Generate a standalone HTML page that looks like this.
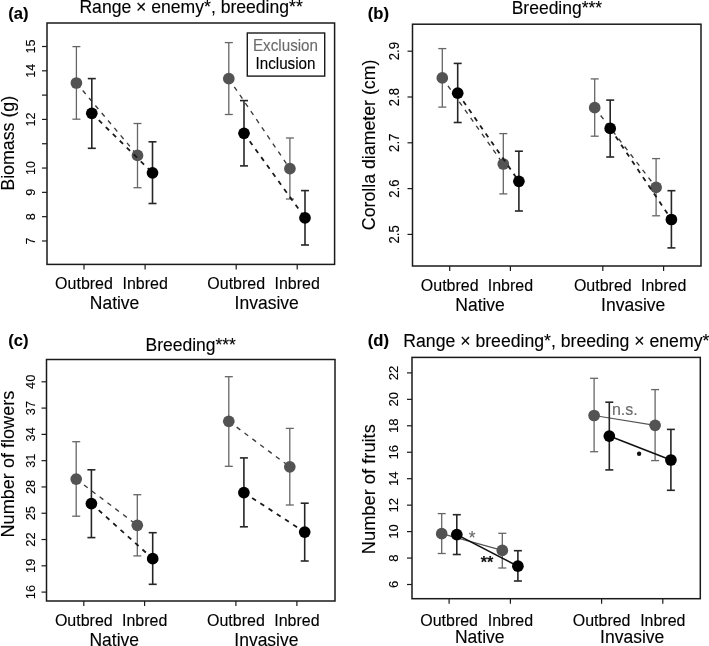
<!DOCTYPE html>
<html><head><meta charset="utf-8"><style>
html,body{margin:0;padding:0;background:#fff;}
svg{display:block;font-family:"Liberation Sans", sans-serif;filter:blur(0.3px);}
</style></head><body>
<svg width="709" height="646" viewBox="0 0 709 646">
<rect width="709" height="646" fill="#fff"/>
<rect x="47" y="23" width="287.6" height="241.4" fill="none" stroke="#1a1a1a" stroke-width="1.5"/>
<line x1="42" y1="240.98" x2="47" y2="240.98" stroke="#1a1a1a" stroke-width="1.2"/>
<text x="0" y="0" transform="translate(35,240.98) rotate(-90) scale(1,1.04)" text-anchor="middle" font-size="12.5" fill="#000" stroke="#000" stroke-width="0.12" font-weight="normal" >7</text>
<line x1="42" y1="216.67" x2="47" y2="216.67" stroke="#1a1a1a" stroke-width="1.2"/>
<text x="0" y="0" transform="translate(35,216.67) rotate(-90) scale(1,1.04)" text-anchor="middle" font-size="12.5" fill="#000" stroke="#000" stroke-width="0.12" font-weight="normal" >8</text>
<line x1="42" y1="192.36" x2="47" y2="192.36" stroke="#1a1a1a" stroke-width="1.2"/>
<text x="0" y="0" transform="translate(35,192.36) rotate(-90) scale(1,1.04)" text-anchor="middle" font-size="12.5" fill="#000" stroke="#000" stroke-width="0.12" font-weight="normal" >9</text>
<line x1="42" y1="168.05" x2="47" y2="168.05" stroke="#1a1a1a" stroke-width="1.2"/>
<text x="0" y="0" transform="translate(35,168.05) rotate(-90) scale(1,1.04)" text-anchor="middle" font-size="12.5" fill="#000" stroke="#000" stroke-width="0.12" font-weight="normal" >10</text>
<line x1="42" y1="143.74" x2="47" y2="143.74" stroke="#1a1a1a" stroke-width="1.2"/>
<line x1="42" y1="119.43" x2="47" y2="119.43" stroke="#1a1a1a" stroke-width="1.2"/>
<text x="0" y="0" transform="translate(35,119.43) rotate(-90) scale(1,1.04)" text-anchor="middle" font-size="12.5" fill="#000" stroke="#000" stroke-width="0.12" font-weight="normal" >12</text>
<line x1="42" y1="95.12" x2="47" y2="95.12" stroke="#1a1a1a" stroke-width="1.2"/>
<line x1="42" y1="70.81" x2="47" y2="70.81" stroke="#1a1a1a" stroke-width="1.2"/>
<text x="0" y="0" transform="translate(35,70.81) rotate(-90) scale(1,1.04)" text-anchor="middle" font-size="12.5" fill="#000" stroke="#000" stroke-width="0.12" font-weight="normal" >14</text>
<line x1="42" y1="46.5" x2="47" y2="46.5" stroke="#1a1a1a" stroke-width="1.2"/>
<text x="0" y="0" transform="translate(35,46.5) rotate(-90) scale(1,1.04)" text-anchor="middle" font-size="12.5" fill="#000" stroke="#000" stroke-width="0.12" font-weight="normal" >15</text>
<line x1="84" y1="264.4" x2="84" y2="269.4" stroke="#1a1a1a" stroke-width="1.2"/>
<line x1="145.1" y1="264.4" x2="145.1" y2="269.4" stroke="#1a1a1a" stroke-width="1.2"/>
<line x1="236.2" y1="264.4" x2="236.2" y2="269.4" stroke="#1a1a1a" stroke-width="1.2"/>
<line x1="297.2" y1="264.4" x2="297.2" y2="269.4" stroke="#1a1a1a" stroke-width="1.2"/>
<text x="0" y="0" transform="translate(84,288.8) scale(1,1.04)" text-anchor="middle" font-size="16" fill="#000" stroke="#000" stroke-width="0.12" font-weight="normal" >Outbred</text>
<text x="0" y="0" transform="translate(145.1,288.8) scale(1,1.04)" text-anchor="middle" font-size="16" fill="#000" stroke="#000" stroke-width="0.12" font-weight="normal" >Inbred</text>
<text x="0" y="0" transform="translate(236.2,288.8) scale(1,1.04)" text-anchor="middle" font-size="16" fill="#000" stroke="#000" stroke-width="0.12" font-weight="normal" >Outbred</text>
<text x="0" y="0" transform="translate(297.2,288.8) scale(1,1.04)" text-anchor="middle" font-size="16" fill="#000" stroke="#000" stroke-width="0.12" font-weight="normal" >Inbred</text>
<text x="0" y="0" transform="translate(114.55,308.5) scale(1,1.04)" text-anchor="middle" font-size="17.5" fill="#000" stroke="#000" stroke-width="0.12" font-weight="normal" >Native</text>
<text x="0" y="0" transform="translate(266.7,308.5) scale(1,1.04)" text-anchor="middle" font-size="17.5" fill="#000" stroke="#000" stroke-width="0.12" font-weight="normal" >Invasive</text>
<text x="0" y="0" transform="translate(13.6,143.3) rotate(-90) scale(1,1.04)" text-anchor="middle" font-size="17.8" fill="#000" stroke="#000" stroke-width="0.12" font-weight="normal" >Biomass (g)</text>
<text x="0" y="0" transform="translate(191.1,12.8) scale(1,1.04)" text-anchor="middle" font-size="17.6" fill="#000" stroke="#000" stroke-width="0.12" font-weight="normal" >Range × enemy*, breeding**</text>
<text x="0" y="0" transform="translate(8.2,18.5) scale(1,1.0)" text-anchor="start" font-size="16.6" fill="#000" stroke="#000" stroke-width="0.12" font-weight="bold" >(a)</text>
<rect x="412.5" y="24.2" width="288.5" height="241.8" fill="none" stroke="#1a1a1a" stroke-width="1.5"/>
<line x1="407.5" y1="234.4" x2="412.5" y2="234.4" stroke="#1a1a1a" stroke-width="1.2"/>
<text x="0" y="0" transform="translate(399.3,234.4) rotate(-90) scale(1,1.04)" text-anchor="middle" font-size="13.2" fill="#000" stroke="#000" stroke-width="0.12" font-weight="normal" >2.5</text>
<line x1="407.5" y1="188.6" x2="412.5" y2="188.6" stroke="#1a1a1a" stroke-width="1.2"/>
<text x="0" y="0" transform="translate(399.3,188.6) rotate(-90) scale(1,1.04)" text-anchor="middle" font-size="13.2" fill="#000" stroke="#000" stroke-width="0.12" font-weight="normal" >2.6</text>
<line x1="407.5" y1="142.8" x2="412.5" y2="142.8" stroke="#1a1a1a" stroke-width="1.2"/>
<text x="0" y="0" transform="translate(399.3,142.8) rotate(-90) scale(1,1.04)" text-anchor="middle" font-size="13.2" fill="#000" stroke="#000" stroke-width="0.12" font-weight="normal" >2.7</text>
<line x1="407.5" y1="97" x2="412.5" y2="97" stroke="#1a1a1a" stroke-width="1.2"/>
<text x="0" y="0" transform="translate(399.3,97) rotate(-90) scale(1,1.04)" text-anchor="middle" font-size="13.2" fill="#000" stroke="#000" stroke-width="0.12" font-weight="normal" >2.8</text>
<line x1="407.5" y1="51.2" x2="412.5" y2="51.2" stroke="#1a1a1a" stroke-width="1.2"/>
<text x="0" y="0" transform="translate(399.3,51.2) rotate(-90) scale(1,1.04)" text-anchor="middle" font-size="13.2" fill="#000" stroke="#000" stroke-width="0.12" font-weight="normal" >2.9</text>
<line x1="449.7" y1="266" x2="449.7" y2="271" stroke="#1a1a1a" stroke-width="1.2"/>
<line x1="510.4" y1="266" x2="510.4" y2="271" stroke="#1a1a1a" stroke-width="1.2"/>
<line x1="602.8" y1="266" x2="602.8" y2="271" stroke="#1a1a1a" stroke-width="1.2"/>
<line x1="663.6" y1="266" x2="663.6" y2="271" stroke="#1a1a1a" stroke-width="1.2"/>
<text x="0" y="0" transform="translate(449.7,290.6) scale(1,1.04)" text-anchor="middle" font-size="16" fill="#000" stroke="#000" stroke-width="0.12" font-weight="normal" >Outbred</text>
<text x="0" y="0" transform="translate(510.4,290.6) scale(1,1.04)" text-anchor="middle" font-size="16" fill="#000" stroke="#000" stroke-width="0.12" font-weight="normal" >Inbred</text>
<text x="0" y="0" transform="translate(602.8,290.6) scale(1,1.04)" text-anchor="middle" font-size="16" fill="#000" stroke="#000" stroke-width="0.12" font-weight="normal" >Outbred</text>
<text x="0" y="0" transform="translate(663.6,290.6) scale(1,1.04)" text-anchor="middle" font-size="16" fill="#000" stroke="#000" stroke-width="0.12" font-weight="normal" >Inbred</text>
<text x="0" y="0" transform="translate(480.05,311.1) scale(1,1.04)" text-anchor="middle" font-size="17.5" fill="#000" stroke="#000" stroke-width="0.12" font-weight="normal" >Native</text>
<text x="0" y="0" transform="translate(633.2,311.1) scale(1,1.04)" text-anchor="middle" font-size="17.5" fill="#000" stroke="#000" stroke-width="0.12" font-weight="normal" >Invasive</text>
<text x="0" y="0" transform="translate(375.3,144.9) rotate(-90) scale(1,1.04)" text-anchor="middle" font-size="17.75" fill="#000" stroke="#000" stroke-width="0.12" font-weight="normal" >Corolla diameter (cm)</text>
<text x="0" y="0" transform="translate(556.9,13.5) scale(1,1.04)" text-anchor="middle" font-size="17.5" fill="#000" stroke="#000" stroke-width="0.12" font-weight="normal" >Breeding***</text>
<text x="0" y="0" transform="translate(367.8,18.5) scale(1,1.0)" text-anchor="start" font-size="16.6" fill="#000" stroke="#000" stroke-width="0.12" font-weight="bold" >(b)</text>
<rect x="46.5" y="359.5" width="288.5" height="241.5" fill="none" stroke="#1a1a1a" stroke-width="1.5"/>
<line x1="41.5" y1="592.1" x2="46.5" y2="592.1" stroke="#1a1a1a" stroke-width="1.2"/>
<text x="0" y="0" transform="translate(35,592.1) rotate(-90) scale(1,1.04)" text-anchor="middle" font-size="12.8" fill="#000" stroke="#000" stroke-width="0.12" font-weight="normal" >16</text>
<line x1="41.5" y1="565.81" x2="46.5" y2="565.81" stroke="#1a1a1a" stroke-width="1.2"/>
<text x="0" y="0" transform="translate(35,565.81) rotate(-90) scale(1,1.04)" text-anchor="middle" font-size="12.8" fill="#000" stroke="#000" stroke-width="0.12" font-weight="normal" >19</text>
<line x1="41.5" y1="539.52" x2="46.5" y2="539.52" stroke="#1a1a1a" stroke-width="1.2"/>
<text x="0" y="0" transform="translate(35,539.52) rotate(-90) scale(1,1.04)" text-anchor="middle" font-size="12.8" fill="#000" stroke="#000" stroke-width="0.12" font-weight="normal" >22</text>
<line x1="41.5" y1="513.24" x2="46.5" y2="513.24" stroke="#1a1a1a" stroke-width="1.2"/>
<text x="0" y="0" transform="translate(35,513.24) rotate(-90) scale(1,1.04)" text-anchor="middle" font-size="12.8" fill="#000" stroke="#000" stroke-width="0.12" font-weight="normal" >25</text>
<line x1="41.5" y1="486.95" x2="46.5" y2="486.95" stroke="#1a1a1a" stroke-width="1.2"/>
<text x="0" y="0" transform="translate(35,486.95) rotate(-90) scale(1,1.04)" text-anchor="middle" font-size="12.8" fill="#000" stroke="#000" stroke-width="0.12" font-weight="normal" >28</text>
<line x1="41.5" y1="460.66" x2="46.5" y2="460.66" stroke="#1a1a1a" stroke-width="1.2"/>
<text x="0" y="0" transform="translate(35,460.66) rotate(-90) scale(1,1.04)" text-anchor="middle" font-size="12.8" fill="#000" stroke="#000" stroke-width="0.12" font-weight="normal" >31</text>
<line x1="41.5" y1="434.38" x2="46.5" y2="434.38" stroke="#1a1a1a" stroke-width="1.2"/>
<text x="0" y="0" transform="translate(35,434.38) rotate(-90) scale(1,1.04)" text-anchor="middle" font-size="12.8" fill="#000" stroke="#000" stroke-width="0.12" font-weight="normal" >34</text>
<line x1="41.5" y1="408.09" x2="46.5" y2="408.09" stroke="#1a1a1a" stroke-width="1.2"/>
<text x="0" y="0" transform="translate(35,408.09) rotate(-90) scale(1,1.04)" text-anchor="middle" font-size="12.8" fill="#000" stroke="#000" stroke-width="0.12" font-weight="normal" >37</text>
<line x1="41.5" y1="381.8" x2="46.5" y2="381.8" stroke="#1a1a1a" stroke-width="1.2"/>
<text x="0" y="0" transform="translate(35,381.8) rotate(-90) scale(1,1.04)" text-anchor="middle" font-size="12.8" fill="#000" stroke="#000" stroke-width="0.12" font-weight="normal" >40</text>
<line x1="83.8" y1="601" x2="83.8" y2="606" stroke="#1a1a1a" stroke-width="1.2"/>
<line x1="144.6" y1="601" x2="144.6" y2="606" stroke="#1a1a1a" stroke-width="1.2"/>
<line x1="235.9" y1="601" x2="235.9" y2="606" stroke="#1a1a1a" stroke-width="1.2"/>
<line x1="296.9" y1="601" x2="296.9" y2="606" stroke="#1a1a1a" stroke-width="1.2"/>
<text x="0" y="0" transform="translate(83.8,625.5) scale(1,1.04)" text-anchor="middle" font-size="16" fill="#000" stroke="#000" stroke-width="0.12" font-weight="normal" >Outbred</text>
<text x="0" y="0" transform="translate(144.6,625.5) scale(1,1.04)" text-anchor="middle" font-size="16" fill="#000" stroke="#000" stroke-width="0.12" font-weight="normal" >Inbred</text>
<text x="0" y="0" transform="translate(235.9,625.5) scale(1,1.04)" text-anchor="middle" font-size="16" fill="#000" stroke="#000" stroke-width="0.12" font-weight="normal" >Outbred</text>
<text x="0" y="0" transform="translate(296.9,625.5) scale(1,1.04)" text-anchor="middle" font-size="16" fill="#000" stroke="#000" stroke-width="0.12" font-weight="normal" >Inbred</text>
<text x="0" y="0" transform="translate(114.2,645.9) scale(1,1.04)" text-anchor="middle" font-size="17.5" fill="#000" stroke="#000" stroke-width="0.12" font-weight="normal" >Native</text>
<text x="0" y="0" transform="translate(266.4,645.9) scale(1,1.04)" text-anchor="middle" font-size="17.5" fill="#000" stroke="#000" stroke-width="0.12" font-weight="normal" >Invasive</text>
<text x="0" y="0" transform="translate(13.7,464.1) rotate(-90) scale(1,1.04)" text-anchor="middle" font-size="18.1" fill="#000" stroke="#000" stroke-width="0.12" font-weight="normal" >Number of flowers</text>
<text x="0" y="0" transform="translate(190.7,350.6) scale(1,1.04)" text-anchor="middle" font-size="17.5" fill="#000" stroke="#000" stroke-width="0.12" font-weight="normal" >Breeding***</text>
<text x="0" y="0" transform="translate(8.2,345.6) scale(1,1.0)" text-anchor="start" font-size="16.6" fill="#000" stroke="#000" stroke-width="0.12" font-weight="bold" >(c)</text>
<rect x="412.0" y="357.4" width="288.3" height="241.3" fill="none" stroke="#1a1a1a" stroke-width="1.5"/>
<line x1="407.0" y1="584.5" x2="412.0" y2="584.5" stroke="#1a1a1a" stroke-width="1.2"/>
<text x="0" y="0" transform="translate(398.2,584.5) rotate(-90) scale(1,1.04)" text-anchor="middle" font-size="13" fill="#000" stroke="#000" stroke-width="0.12" font-weight="normal" >6</text>
<line x1="407.0" y1="558.05" x2="412.0" y2="558.05" stroke="#1a1a1a" stroke-width="1.2"/>
<text x="0" y="0" transform="translate(398.2,558.05) rotate(-90) scale(1,1.04)" text-anchor="middle" font-size="13" fill="#000" stroke="#000" stroke-width="0.12" font-weight="normal" >8</text>
<line x1="407.0" y1="531.6" x2="412.0" y2="531.6" stroke="#1a1a1a" stroke-width="1.2"/>
<text x="0" y="0" transform="translate(398.2,531.6) rotate(-90) scale(1,1.04)" text-anchor="middle" font-size="13" fill="#000" stroke="#000" stroke-width="0.12" font-weight="normal" >10</text>
<line x1="407.0" y1="505.15" x2="412.0" y2="505.15" stroke="#1a1a1a" stroke-width="1.2"/>
<text x="0" y="0" transform="translate(398.2,505.15) rotate(-90) scale(1,1.04)" text-anchor="middle" font-size="13" fill="#000" stroke="#000" stroke-width="0.12" font-weight="normal" >12</text>
<line x1="407.0" y1="478.7" x2="412.0" y2="478.7" stroke="#1a1a1a" stroke-width="1.2"/>
<text x="0" y="0" transform="translate(398.2,478.7) rotate(-90) scale(1,1.04)" text-anchor="middle" font-size="13" fill="#000" stroke="#000" stroke-width="0.12" font-weight="normal" >14</text>
<line x1="407.0" y1="452.25" x2="412.0" y2="452.25" stroke="#1a1a1a" stroke-width="1.2"/>
<text x="0" y="0" transform="translate(398.2,452.25) rotate(-90) scale(1,1.04)" text-anchor="middle" font-size="13" fill="#000" stroke="#000" stroke-width="0.12" font-weight="normal" >16</text>
<line x1="407.0" y1="425.8" x2="412.0" y2="425.8" stroke="#1a1a1a" stroke-width="1.2"/>
<text x="0" y="0" transform="translate(398.2,425.8) rotate(-90) scale(1,1.04)" text-anchor="middle" font-size="13" fill="#000" stroke="#000" stroke-width="0.12" font-weight="normal" >18</text>
<line x1="407.0" y1="399.35" x2="412.0" y2="399.35" stroke="#1a1a1a" stroke-width="1.2"/>
<text x="0" y="0" transform="translate(398.2,399.35) rotate(-90) scale(1,1.04)" text-anchor="middle" font-size="13" fill="#000" stroke="#000" stroke-width="0.12" font-weight="normal" >20</text>
<line x1="407.0" y1="372.9" x2="412.0" y2="372.9" stroke="#1a1a1a" stroke-width="1.2"/>
<text x="0" y="0" transform="translate(398.2,372.9) rotate(-90) scale(1,1.04)" text-anchor="middle" font-size="13" fill="#000" stroke="#000" stroke-width="0.12" font-weight="normal" >22</text>
<line x1="449.1" y1="598.7" x2="449.1" y2="603.7" stroke="#1a1a1a" stroke-width="1.2"/>
<line x1="510.4" y1="598.7" x2="510.4" y2="603.7" stroke="#1a1a1a" stroke-width="1.2"/>
<line x1="601.6" y1="598.7" x2="601.6" y2="603.7" stroke="#1a1a1a" stroke-width="1.2"/>
<line x1="662.8" y1="598.7" x2="662.8" y2="603.7" stroke="#1a1a1a" stroke-width="1.2"/>
<text x="0" y="0" transform="translate(449.1,625.7) scale(1,1.04)" text-anchor="middle" font-size="16" fill="#000" stroke="#000" stroke-width="0.12" font-weight="normal" >Outbred</text>
<text x="0" y="0" transform="translate(510.4,625.7) scale(1,1.04)" text-anchor="middle" font-size="16" fill="#000" stroke="#000" stroke-width="0.12" font-weight="normal" >Inbred</text>
<text x="0" y="0" transform="translate(601.6,625.7) scale(1,1.04)" text-anchor="middle" font-size="16" fill="#000" stroke="#000" stroke-width="0.12" font-weight="normal" >Outbred</text>
<text x="0" y="0" transform="translate(662.8,625.7) scale(1,1.04)" text-anchor="middle" font-size="16" fill="#000" stroke="#000" stroke-width="0.12" font-weight="normal" >Inbred</text>
<text x="0" y="0" transform="translate(479.75,642.8) scale(1,1.04)" text-anchor="middle" font-size="17.5" fill="#000" stroke="#000" stroke-width="0.12" font-weight="normal" >Native</text>
<text x="0" y="0" transform="translate(632.2,642.8) scale(1,1.04)" text-anchor="middle" font-size="17.5" fill="#000" stroke="#000" stroke-width="0.12" font-weight="normal" >Invasive</text>
<text x="0" y="0" transform="translate(374.8,489.2) rotate(-90) scale(1,1.04)" text-anchor="middle" font-size="18.3" fill="#000" stroke="#000" stroke-width="0.12" font-weight="normal" >Number of fruits</text>
<text x="0" y="0" transform="translate(556.3,346.8) scale(1,1.04)" text-anchor="middle" font-size="17.65" fill="#000" stroke="#000" stroke-width="0.12" font-weight="normal" >Range × breeding*, breeding × enemy*</text>
<text x="0" y="0" transform="translate(367.8,345.6) scale(1,1.0)" text-anchor="start" font-size="16.6" fill="#000" stroke="#000" stroke-width="0.12" font-weight="bold" >(d)</text>
<line x1="76.4" y1="46.6" x2="76.4" y2="119.2" stroke="#666666" stroke-width="1.3"/>
<line x1="72.4" y1="46.6" x2="80.4" y2="46.6" stroke="#666666" stroke-width="1.3"/>
<line x1="72.4" y1="119.2" x2="80.4" y2="119.2" stroke="#666666" stroke-width="1.3"/>
<line x1="137.5" y1="123.5" x2="137.5" y2="187.7" stroke="#666666" stroke-width="1.3"/>
<line x1="133.5" y1="123.5" x2="141.5" y2="123.5" stroke="#666666" stroke-width="1.3"/>
<line x1="133.5" y1="187.7" x2="141.5" y2="187.7" stroke="#666666" stroke-width="1.3"/>
<line x1="76.4" y1="83" x2="137.5" y2="155.4" stroke="#3c3c3c" stroke-width="1.35" stroke-dasharray="4.6 5.2"/>
<circle cx="76.4" cy="83" r="5.85" fill="#535353"/>
<circle cx="137.5" cy="155.4" r="5.85" fill="#535353"/>
<line x1="91.8" y1="78.6" x2="91.8" y2="148.3" stroke="#262626" stroke-width="1.6"/>
<line x1="87.8" y1="78.6" x2="95.8" y2="78.6" stroke="#262626" stroke-width="1.6"/>
<line x1="87.8" y1="148.3" x2="95.8" y2="148.3" stroke="#262626" stroke-width="1.6"/>
<line x1="152.5" y1="141.8" x2="152.5" y2="203.5" stroke="#262626" stroke-width="1.6"/>
<line x1="148.5" y1="141.8" x2="156.5" y2="141.8" stroke="#262626" stroke-width="1.6"/>
<line x1="148.5" y1="203.5" x2="156.5" y2="203.5" stroke="#262626" stroke-width="1.6"/>
<line x1="91.8" y1="113.3" x2="152.5" y2="172.8" stroke="#1a1a1a" stroke-width="1.8" stroke-dasharray="4.6 5.2"/>
<circle cx="91.8" cy="113.3" r="5.85" fill="#000"/>
<circle cx="152.5" cy="172.8" r="5.85" fill="#000"/>
<line x1="228.8" y1="42.6" x2="228.8" y2="114.5" stroke="#666666" stroke-width="1.3"/>
<line x1="224.8" y1="42.6" x2="232.8" y2="42.6" stroke="#666666" stroke-width="1.3"/>
<line x1="224.8" y1="114.5" x2="232.8" y2="114.5" stroke="#666666" stroke-width="1.3"/>
<line x1="289.9" y1="138" x2="289.9" y2="199" stroke="#666666" stroke-width="1.3"/>
<line x1="285.9" y1="138" x2="293.9" y2="138" stroke="#666666" stroke-width="1.3"/>
<line x1="285.9" y1="199" x2="293.9" y2="199" stroke="#666666" stroke-width="1.3"/>
<line x1="228.8" y1="78.7" x2="289.9" y2="168.7" stroke="#3c3c3c" stroke-width="1.35" stroke-dasharray="4.6 5.2"/>
<circle cx="228.8" cy="78.7" r="5.85" fill="#535353"/>
<circle cx="289.9" cy="168.7" r="5.85" fill="#535353"/>
<line x1="244" y1="100.6" x2="244" y2="165.9" stroke="#262626" stroke-width="1.6"/>
<line x1="240.0" y1="100.6" x2="248.0" y2="100.6" stroke="#262626" stroke-width="1.6"/>
<line x1="240.0" y1="165.9" x2="248.0" y2="165.9" stroke="#262626" stroke-width="1.6"/>
<line x1="305" y1="190.6" x2="305" y2="245" stroke="#262626" stroke-width="1.6"/>
<line x1="301.0" y1="190.6" x2="309.0" y2="190.6" stroke="#262626" stroke-width="1.6"/>
<line x1="301.0" y1="245" x2="309.0" y2="245" stroke="#262626" stroke-width="1.6"/>
<line x1="244" y1="133.3" x2="305" y2="217.9" stroke="#1a1a1a" stroke-width="1.8" stroke-dasharray="4.6 5.2"/>
<circle cx="244" cy="133.3" r="5.85" fill="#000"/>
<circle cx="305" cy="217.9" r="5.85" fill="#000"/>
<rect x="247.3" y="33" width="77.4" height="43.1" fill="#fff" stroke="#1a1a1a" stroke-width="1.4"/>
<text x="0" y="0" transform="translate(285.5,51.2) scale(1,1.04)" text-anchor="middle" font-size="15.2" fill="#6a6a6a" stroke="#6a6a6a" stroke-width="0.12" font-weight="normal" >Exclusion</text>
<text x="0" y="0" transform="translate(285.5,68.9) scale(1,1.04)" text-anchor="middle" font-size="15.2" fill="#000" stroke="#000" stroke-width="0.12" font-weight="normal" >Inclusion</text>
<line x1="442.3" y1="48.6" x2="442.3" y2="107.1" stroke="#666666" stroke-width="1.3"/>
<line x1="438.3" y1="48.6" x2="446.3" y2="48.6" stroke="#666666" stroke-width="1.3"/>
<line x1="438.3" y1="107.1" x2="446.3" y2="107.1" stroke="#666666" stroke-width="1.3"/>
<line x1="503.3" y1="133.6" x2="503.3" y2="193.9" stroke="#666666" stroke-width="1.3"/>
<line x1="499.3" y1="133.6" x2="507.3" y2="133.6" stroke="#666666" stroke-width="1.3"/>
<line x1="499.3" y1="193.9" x2="507.3" y2="193.9" stroke="#666666" stroke-width="1.3"/>
<line x1="442.3" y1="77.9" x2="503.3" y2="164" stroke="#3c3c3c" stroke-width="1.35" stroke-dasharray="4.6 5.2"/>
<circle cx="442.3" cy="77.9" r="5.85" fill="#535353"/>
<circle cx="503.3" cy="164" r="5.85" fill="#535353"/>
<line x1="457.7" y1="63.4" x2="457.7" y2="122.5" stroke="#262626" stroke-width="1.6"/>
<line x1="453.7" y1="63.4" x2="461.7" y2="63.4" stroke="#262626" stroke-width="1.6"/>
<line x1="453.7" y1="122.5" x2="461.7" y2="122.5" stroke="#262626" stroke-width="1.6"/>
<line x1="518.9" y1="151.2" x2="518.9" y2="211" stroke="#262626" stroke-width="1.6"/>
<line x1="514.9" y1="151.2" x2="522.9" y2="151.2" stroke="#262626" stroke-width="1.6"/>
<line x1="514.9" y1="211" x2="522.9" y2="211" stroke="#262626" stroke-width="1.6"/>
<line x1="457.7" y1="93.2" x2="518.9" y2="181.3" stroke="#1a1a1a" stroke-width="1.8" stroke-dasharray="4.6 5.2"/>
<circle cx="457.7" cy="93.2" r="5.85" fill="#000"/>
<circle cx="518.9" cy="181.3" r="5.85" fill="#000"/>
<line x1="594.7" y1="78.9" x2="594.7" y2="136.2" stroke="#666666" stroke-width="1.3"/>
<line x1="590.7" y1="78.9" x2="598.7" y2="78.9" stroke="#666666" stroke-width="1.3"/>
<line x1="590.7" y1="136.2" x2="598.7" y2="136.2" stroke="#666666" stroke-width="1.3"/>
<line x1="656.1" y1="158.6" x2="656.1" y2="215.8" stroke="#666666" stroke-width="1.3"/>
<line x1="652.1" y1="158.6" x2="660.1" y2="158.6" stroke="#666666" stroke-width="1.3"/>
<line x1="652.1" y1="215.8" x2="660.1" y2="215.8" stroke="#666666" stroke-width="1.3"/>
<line x1="594.7" y1="107.7" x2="656.1" y2="187.4" stroke="#3c3c3c" stroke-width="1.35" stroke-dasharray="4.6 5.2"/>
<circle cx="594.7" cy="107.7" r="5.85" fill="#535353"/>
<circle cx="656.1" cy="187.4" r="5.85" fill="#535353"/>
<line x1="610.2" y1="100.1" x2="610.2" y2="157" stroke="#262626" stroke-width="1.6"/>
<line x1="606.2" y1="100.1" x2="614.2" y2="100.1" stroke="#262626" stroke-width="1.6"/>
<line x1="606.2" y1="157" x2="614.2" y2="157" stroke="#262626" stroke-width="1.6"/>
<line x1="671.4" y1="190.7" x2="671.4" y2="247.9" stroke="#262626" stroke-width="1.6"/>
<line x1="667.4" y1="190.7" x2="675.4" y2="190.7" stroke="#262626" stroke-width="1.6"/>
<line x1="667.4" y1="247.9" x2="675.4" y2="247.9" stroke="#262626" stroke-width="1.6"/>
<line x1="610.2" y1="128.4" x2="671.4" y2="219.5" stroke="#1a1a1a" stroke-width="1.8" stroke-dasharray="4.6 5.2"/>
<circle cx="610.2" cy="128.4" r="5.85" fill="#000"/>
<circle cx="671.4" cy="219.5" r="5.85" fill="#000"/>
<line x1="76.2" y1="441.7" x2="76.2" y2="516.2" stroke="#666666" stroke-width="1.3"/>
<line x1="72.2" y1="441.7" x2="80.2" y2="441.7" stroke="#666666" stroke-width="1.3"/>
<line x1="72.2" y1="516.2" x2="80.2" y2="516.2" stroke="#666666" stroke-width="1.3"/>
<line x1="137.3" y1="494.7" x2="137.3" y2="555.9" stroke="#666666" stroke-width="1.3"/>
<line x1="133.3" y1="494.7" x2="141.3" y2="494.7" stroke="#666666" stroke-width="1.3"/>
<line x1="133.3" y1="555.9" x2="141.3" y2="555.9" stroke="#666666" stroke-width="1.3"/>
<line x1="76.2" y1="479.1" x2="137.3" y2="525.3" stroke="#3c3c3c" stroke-width="1.35" stroke-dasharray="4.6 5.2"/>
<circle cx="76.2" cy="479.1" r="5.85" fill="#535353"/>
<circle cx="137.3" cy="525.3" r="5.85" fill="#535353"/>
<line x1="91.4" y1="469.8" x2="91.4" y2="537.6" stroke="#262626" stroke-width="1.6"/>
<line x1="87.4" y1="469.8" x2="95.4" y2="469.8" stroke="#262626" stroke-width="1.6"/>
<line x1="87.4" y1="537.6" x2="95.4" y2="537.6" stroke="#262626" stroke-width="1.6"/>
<line x1="152.7" y1="532.7" x2="152.7" y2="584.3" stroke="#262626" stroke-width="1.6"/>
<line x1="148.7" y1="532.7" x2="156.7" y2="532.7" stroke="#262626" stroke-width="1.6"/>
<line x1="148.7" y1="584.3" x2="156.7" y2="584.3" stroke="#262626" stroke-width="1.6"/>
<line x1="91.4" y1="503.6" x2="152.7" y2="558.7" stroke="#1a1a1a" stroke-width="1.8" stroke-dasharray="4.6 5.2"/>
<circle cx="91.4" cy="503.6" r="5.85" fill="#000"/>
<circle cx="152.7" cy="558.7" r="5.85" fill="#000"/>
<line x1="228.8" y1="376.7" x2="228.8" y2="466.3" stroke="#666666" stroke-width="1.3"/>
<line x1="224.8" y1="376.7" x2="232.8" y2="376.7" stroke="#666666" stroke-width="1.3"/>
<line x1="224.8" y1="466.3" x2="232.8" y2="466.3" stroke="#666666" stroke-width="1.3"/>
<line x1="289.8" y1="428.4" x2="289.8" y2="505" stroke="#666666" stroke-width="1.3"/>
<line x1="285.8" y1="428.4" x2="293.8" y2="428.4" stroke="#666666" stroke-width="1.3"/>
<line x1="285.8" y1="505" x2="293.8" y2="505" stroke="#666666" stroke-width="1.3"/>
<line x1="228.8" y1="421.3" x2="289.8" y2="466.8" stroke="#3c3c3c" stroke-width="1.35" stroke-dasharray="4.6 5.2"/>
<circle cx="228.8" cy="421.3" r="5.85" fill="#535353"/>
<circle cx="289.8" cy="466.8" r="5.85" fill="#535353"/>
<line x1="243.9" y1="457.9" x2="243.9" y2="526.8" stroke="#262626" stroke-width="1.6"/>
<line x1="239.9" y1="457.9" x2="247.9" y2="457.9" stroke="#262626" stroke-width="1.6"/>
<line x1="239.9" y1="526.8" x2="247.9" y2="526.8" stroke="#262626" stroke-width="1.6"/>
<line x1="304.7" y1="503.2" x2="304.7" y2="561" stroke="#262626" stroke-width="1.6"/>
<line x1="300.7" y1="503.2" x2="308.7" y2="503.2" stroke="#262626" stroke-width="1.6"/>
<line x1="300.7" y1="561" x2="308.7" y2="561" stroke="#262626" stroke-width="1.6"/>
<line x1="243.9" y1="492.6" x2="304.7" y2="532.1" stroke="#1a1a1a" stroke-width="1.8" stroke-dasharray="4.6 5.2"/>
<circle cx="243.9" cy="492.6" r="5.85" fill="#000"/>
<circle cx="304.7" cy="532.1" r="5.85" fill="#000"/>
<line x1="441.7" y1="513.6" x2="441.7" y2="553.5" stroke="#666666" stroke-width="1.3"/>
<line x1="437.7" y1="513.6" x2="445.7" y2="513.6" stroke="#666666" stroke-width="1.3"/>
<line x1="437.7" y1="553.5" x2="445.7" y2="553.5" stroke="#666666" stroke-width="1.3"/>
<line x1="502.3" y1="533.3" x2="502.3" y2="568" stroke="#666666" stroke-width="1.3"/>
<line x1="498.3" y1="533.3" x2="506.3" y2="533.3" stroke="#666666" stroke-width="1.3"/>
<line x1="498.3" y1="568" x2="506.3" y2="568" stroke="#666666" stroke-width="1.3"/>
<line x1="441.7" y1="533.7" x2="502.3" y2="550.4" stroke="#555" stroke-width="1.25"/>
<circle cx="441.7" cy="533.7" r="5.85" fill="#535353"/>
<circle cx="502.3" cy="550.4" r="5.85" fill="#535353"/>
<line x1="456.8" y1="514.7" x2="456.8" y2="554.5" stroke="#262626" stroke-width="1.6"/>
<line x1="452.8" y1="514.7" x2="460.8" y2="514.7" stroke="#262626" stroke-width="1.6"/>
<line x1="452.8" y1="554.5" x2="460.8" y2="554.5" stroke="#262626" stroke-width="1.6"/>
<line x1="517.9" y1="550.7" x2="517.9" y2="581" stroke="#262626" stroke-width="1.6"/>
<line x1="513.9" y1="550.7" x2="521.9" y2="550.7" stroke="#262626" stroke-width="1.6"/>
<line x1="513.9" y1="581" x2="521.9" y2="581" stroke="#262626" stroke-width="1.6"/>
<line x1="456.8" y1="534.6" x2="517.9" y2="566.2" stroke="#111" stroke-width="1.6"/>
<circle cx="456.8" cy="534.6" r="5.85" fill="#000"/>
<circle cx="517.9" cy="566.2" r="5.85" fill="#000"/>
<line x1="594.1" y1="378.3" x2="594.1" y2="451.7" stroke="#666666" stroke-width="1.3"/>
<line x1="590.1" y1="378.3" x2="598.1" y2="378.3" stroke="#666666" stroke-width="1.3"/>
<line x1="590.1" y1="451.7" x2="598.1" y2="451.7" stroke="#666666" stroke-width="1.3"/>
<line x1="655.1" y1="389.6" x2="655.1" y2="460.6" stroke="#666666" stroke-width="1.3"/>
<line x1="651.1" y1="389.6" x2="659.1" y2="389.6" stroke="#666666" stroke-width="1.3"/>
<line x1="651.1" y1="460.6" x2="659.1" y2="460.6" stroke="#666666" stroke-width="1.3"/>
<line x1="594.1" y1="415.5" x2="655.1" y2="425.3" stroke="#555" stroke-width="1.25"/>
<circle cx="594.1" cy="415.5" r="5.85" fill="#535353"/>
<circle cx="655.1" cy="425.3" r="5.85" fill="#535353"/>
<line x1="609.3" y1="402.2" x2="609.3" y2="469.9" stroke="#262626" stroke-width="1.6"/>
<line x1="605.3" y1="402.2" x2="613.3" y2="402.2" stroke="#262626" stroke-width="1.6"/>
<line x1="605.3" y1="469.9" x2="613.3" y2="469.9" stroke="#262626" stroke-width="1.6"/>
<line x1="670.9" y1="429.4" x2="670.9" y2="490.3" stroke="#262626" stroke-width="1.6"/>
<line x1="666.9" y1="429.4" x2="674.9" y2="429.4" stroke="#262626" stroke-width="1.6"/>
<line x1="666.9" y1="490.3" x2="674.9" y2="490.3" stroke="#262626" stroke-width="1.6"/>
<line x1="609.3" y1="436.1" x2="670.9" y2="460" stroke="#111" stroke-width="1.6"/>
<circle cx="609.3" cy="436.1" r="5.85" fill="#000"/>
<circle cx="670.9" cy="460" r="5.85" fill="#000"/>
<text x="0" y="0" transform="translate(472.1,544.3) scale(1,1.04)" text-anchor="middle" font-size="17.3" fill="#666" stroke="#666" stroke-width="0.12" font-weight="normal" >*</text>
<text x="0" y="0" transform="translate(487,568.3) scale(1,1.04)" text-anchor="middle" font-size="16.2" fill="#111" stroke="#111" stroke-width="0.12" font-weight="bold" >**</text>
<text x="0" y="0" transform="translate(624.8,415.3) scale(1,1.04)" text-anchor="middle" font-size="16" fill="#6a6a6a" stroke="#6a6a6a" stroke-width="0.12" font-weight="normal" >n.s.</text>
<circle cx="639.1" cy="453.8" r="2.2" fill="#111"/>
</svg></body></html>
